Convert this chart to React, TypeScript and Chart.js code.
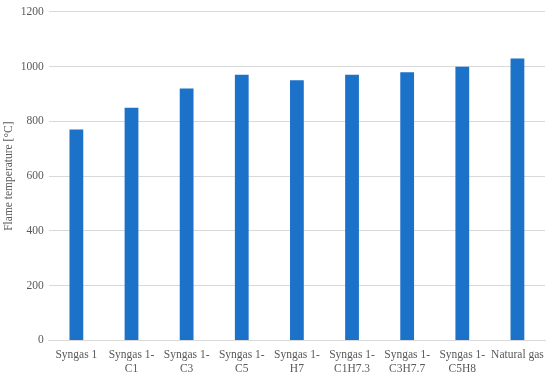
import React, { useEffect, useRef } from "react";
import { Chart, registerables } from "chart.js";
Chart.register(...registerables);

const categories: string[][] = [
  ["Syngas 1"],
  ["Syngas 1-", "C1"],
  ["Syngas 1-", "C3"],
  ["Syngas 1-", "C5"],
  ["Syngas 1-", "H7"],
  ["Syngas 1-", "C1H7.3"],
  ["Syngas 1-", "C3H7.7"],
  ["Syngas 1-", "C5H8"],
  ["Natural gas"],
];
const flameTemperature: number[] = [770, 850, 920, 970, 950, 970, 980, 1000, 1030];
const yTicks = { min: 0, max: 1200, step: 200 };

export default function App() {
  const ref = useRef<HTMLCanvasElement>(null);
  useEffect(() => {
    document.body.style.margin = "0";
    const chart = new Chart(ref.current!, {
      type: "bar",
      data: {
        labels: categories,
        datasets: [
          {
            data: flameTemperature,
            backgroundColor: "#1C72C9",
            borderColor: "#1C72C9",
            barPercentage: 0.5,
            categoryPercentage: 0.5,
          },
        ],
      },
      options: {
        animation: false,
        responsive: false,
        layout: { padding: { left: 0, right: 5, top: -3, bottom: 4 } },
        plugins: { legend: { display: false }, tooltip: { enabled: false } },
        scales: {
          x: {
            grid: { display: false },
            border: { color: "#d9d9d9" },
            ticks: {
              color: "#595959",
              font: { family: "Liberation Serif", size: 11.5, lineHeight: 1.2 },
              maxRotation: 0,
              autoSkip: false,
              padding: 0,
            },
          },
          y: {
            min: yTicks.min,
            max: yTicks.max,
            border: { display: false },
            grid: { color: "#d9d9d9", drawTicks: false },
            ticks: {
              stepSize: yTicks.step,
              color: "#595959",
              font: { family: "Liberation Serif", size: 11.5 },
              padding: 5,
              callback: (v: any) => String(v),
            },
            title: {
              display: true,
              text: "Flame temperature [°C]",
              color: "#595959",
              font: { family: "Liberation Serif", size: 11.5 },
              padding: { top: 2, bottom: 0 },
            },
          },
        },
      },
    });
    return () => chart.destroy();
  }, []);
  return <canvas ref={ref} width={550} height={380} style={{ display: "block" }} />;
}
